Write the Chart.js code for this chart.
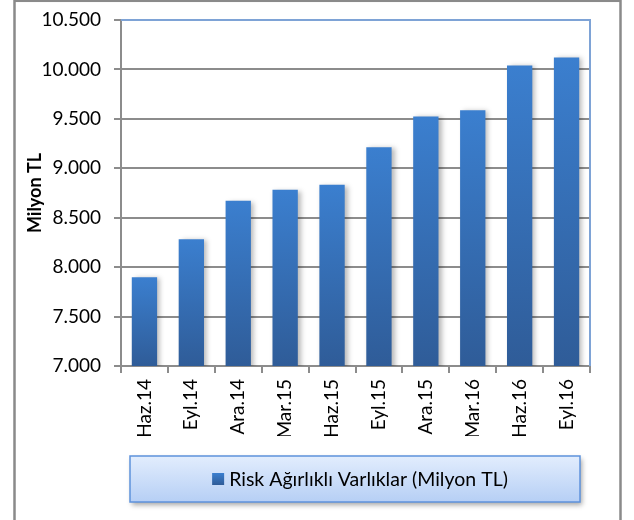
<!DOCTYPE html>
<html>
<head>
<meta charset="utf-8">
<script src="https://cdn.jsdelivr.net/npm/chart.js@4/dist/chart.umd.min.js"></script>
<style>
  html, body { margin: 0; padding: 0; background: #fff; }
  #wrap { width: 634px; height: 520px; }
</style>
</head>
<body>
<div id="wrap"><canvas id="chart"></canvas></div>
<script>
// Quarterly periods and risk-weighted assets (million TL)
const periods = ['Haz.14', 'Eyl.14', 'Ara.14', 'Mar.15', 'Haz.15', 'Eyl.15', 'Ara.15', 'Mar.16', 'Haz.16', 'Eyl.16'];
const riskWeighted = [7899, 8283, 8672, 8783, 8834, 9212, 9525, 9586, 10040, 10121];
const seriesLabel = 'Risk Ağırlıklı Varlıklar (Milyon TL)';
const axisTitle = 'Milyon TL';

const FONT = 'Lato, "Open Sans", sans-serif';
const GRID = '#8c8c8c';

// thousands separator with a dot, e.g. 10.500
const fmt = v => String(v).replace(/\B(?=(\d{3})+(?!\d))/g, '.');

// vertical gradient for each bar, light at the top, dark at the base
const barFill = (ctx) => {
  const chart = ctx.chart;
  const area = chart.chartArea;
  if (!area || ctx.type !== 'data') return '#3670b8';
  const top = chart.scales.y.getPixelForValue(ctx.raw);
  const g = chart.ctx.createLinearGradient(0, top, 0, area.bottom);
  g.addColorStop(0, '#3b7fcf');
  g.addColorStop(1, '#2f5c98');
  return g;
};

// white page with the grey outer frame
const framePlugin = {
  id: 'frame',
  beforeDraw(chart) {
    const c = chart.ctx;
    c.save();
    c.fillStyle = '#fff';
    c.fillRect(0, 0, chart.width, chart.height);
    c.strokeStyle = '#8a8a8a';
    c.lineWidth = 2.5;
    c.strokeRect(14.5, 0.8, 606, 530);
    c.restore();
  }
};

// blue top and right edges of the plot area, plus soft shadow behind bars
const plotPlugin = {
  id: 'plot',
  beforeDatasetsDraw(chart) {
    const c = chart.ctx;
    const a = chart.chartArea;
    c.save();
    c.strokeStyle = '#7ea3d6';
    c.lineWidth = 2;
    c.beginPath();
    c.moveTo(a.left, a.top);
    c.lineTo(a.right, a.top);
    c.lineTo(a.right, a.bottom);
    c.stroke();
    c.restore();
    c.save();
    c.shadowColor = 'rgba(0,0,0,0.28)';
    c.shadowBlur = 5;
    c.shadowOffsetX = 3;
    c.shadowOffsetY = 1;
  },
  afterDatasetsDraw(chart) {
    chart.ctx.restore();
  }
};

// boxed legend below the category labels
const legendBoxPlugin = {
  id: 'legendBox',
  afterDraw(chart) {
    const c = chart.ctx;
    const x = 130, y = 456, w = 450, h = 46;
    c.save();
    c.shadowColor = 'rgba(0,0,0,0.35)';
    c.shadowBlur = 5;
    c.shadowOffsetX = 2;
    c.shadowOffsetY = 3;
    const g = c.createLinearGradient(0, y, 0, y + h);
    g.addColorStop(0, '#e2edfd');
    g.addColorStop(1, '#b6cff5');
    c.fillStyle = g;
    c.fillRect(x, y, w, h);
    c.restore();
    c.save();
    c.strokeStyle = '#5e92dc';
    c.lineWidth = 1.5;
    c.strokeRect(x, y, w, h);

    const label = chart.data.datasets[0].label;
    c.font = '19.5px ' + FONT;
    const tw = c.measureText(label).width;
    const box = 12, gap = 5;
    const start = x + (w - (box + gap + tw)) / 2 + 5;
    const cy = y + h / 2;
    const sg = c.createLinearGradient(0, cy - box / 2, 0, cy + box / 2);
    sg.addColorStop(0, '#3b7fcf');
    sg.addColorStop(1, '#2f5c98');
    c.fillStyle = sg;
    c.fillRect(start, cy - box / 2, box, box);
    c.fillStyle = '#000';
    c.textBaseline = 'middle';
    c.fillText(label, start + box + gap, cy + 1);
    c.restore();
  }
};

new Chart(document.getElementById('chart'), {
  type: 'bar',
  data: {
    labels: periods,
    datasets: [{
      label: seriesLabel,
      data: riskWeighted,
      backgroundColor: barFill,
      borderWidth: 0,
      categoryPercentage: 1,
      barPercentage: 0.54
    }]
  },
  options: {
    responsive: true,
    maintainAspectRatio: false,
    animation: false,
    layout: { padding: { left: 20, top: 20, right: 44, bottom: 84 } },
    plugins: {
      legend: { display: false },
      tooltip: { enabled: false }
    },
    scales: {
      x: {
        offset: true,
        afterFit: s => { s.height = 70; },
        grid: {
          offset: true,
          drawOnChartArea: false,
          drawTicks: true,
          tickLength: 7,
          color: GRID,
          lineWidth: 2
        },
        border: { color: GRID, width: 2 },
        ticks: {
          minRotation: 90,
          maxRotation: 90,
          autoSkip: false,
          padding: 6,
          color: '#000',
          font: { family: FONT, size: 19 }
        }
      },
      y: {
        min: 7000,
        max: 10500,
        afterFit: s => {
          s.width = 101;
          s.paddingTop = 0;
          s.paddingBottom = 0;
        },
        grid: {
          color: GRID,
          lineWidth: 2,
          tickLength: 7
        },
        border: { color: GRID, width: 2 },
        ticks: {
          stepSize: 500,
          padding: 13,
          color: '#000',
          font: { family: FONT, size: 19 },
          callback: v => fmt(v)
        },
        title: {
          display: true,
          text: axisTitle,
          color: '#000',
          padding: { top: 4, bottom: 0 },
          font: { family: FONT, size: 18, weight: 'bold' }
        }
      }
    }
  },
  plugins: [framePlugin, plotPlugin, legendBoxPlugin]
});
</script>
</body>
</html>
